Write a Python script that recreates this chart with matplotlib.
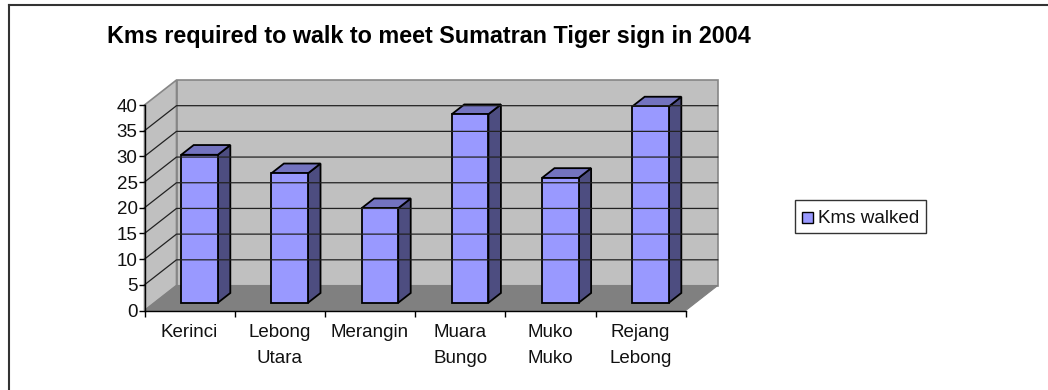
import matplotlib
matplotlib.use("Agg")
import matplotlib.pyplot as plt
from matplotlib.lines import Line2D
from matplotlib.patches import Polygon, Rectangle

plt.rcParams['font.family'] = ['Liberation Sans', 'DejaVu Sans']

title = "Kms required to walk to meet Sumatran Tiger sign in 2004"
categories = ["Kerinci", "Lebong\nUtara", "Merangin", "Muara\nBungo", "Muko\nMuko", "Rejang\nLebong"]
kms_walked = [28.8, 25.2, 18.4, 36.7, 24.3, 38.2]
y_ticks = [0, 5, 10, 15, 20, 25, 30, 35, 40]
legend_label = "Kms walked"

W, H = 1048, 390
fig = plt.figure(figsize=(W / 100, H / 100), dpi=100)
fig.patch.set_facecolor("white")

# chart frame, only the top and left edges are drawn
frame = dict(color="#333333", linewidth=1.5, transform=fig.transFigure)
fig.add_artist(Line2D([9 / W, 9 / W], [0, 1 - 5 / H], **frame))
fig.add_artist(Line2D([9 / W, 1], [1 - 5 / H, 1 - 5 / H], **frame))

# front plane of the chart box
ax = fig.add_axes([144.5 / W, 1 - 310.5 / H, 541.2 / W, 205.5 / H])
ax.set_xlim(0, 6)
ax.set_ylim(0, 40)
ax.patch.set_visible(False)
for s in ax.spines.values():
    s.set_visible(False)

# oblique projection: how far the back of the box shifts, in data units
DX = 32 / (541.2 / 6)
DY = 25 / (205.5 / 40)


def pt(x, y, d=0.0):
    return (x + d * DX, y + d * DY)


def poly(points, **kw):
    ax.add_patch(Polygon(points, closed=True, clip_on=False, **kw))


# walls and floor
poly([pt(0, 0, 1), pt(6, 0, 1), pt(6, 40, 1), pt(0, 40, 1)], facecolor="#c0c0c0", edgecolor="#868686", linewidth=1.2)
poly([pt(0, 0), pt(0, 0, 1), pt(0, 40, 1), pt(0, 40)], facecolor="#c0c0c0", edgecolor="#868686", linewidth=1.2)
poly([pt(0, 0), pt(6, 0), pt(6, 0, 1), pt(0, 0, 1)], facecolor="#808080", edgecolor="#808080", linewidth=0.8)

# gridlines run along the left wall and across the back
for t in y_ticks[1:-1]:
    xs, ys = zip(pt(0, t), pt(0, t, 1), pt(6, t, 1))
    ax.plot(xs, ys, color="#222222", linewidth=0.9, clip_on=False)

# columns
BAR_W = 0.406
D0, D1 = 0.31, 0.70
for i, v in enumerate(kms_walked):
    x0 = i + 0.5 - BAR_W / 2
    x1 = x0 + BAR_W
    ec = dict(edgecolor="black", linewidth=1.3, joinstyle="miter")
    poly([pt(x1, 0, D0), pt(x1, 0, D1), pt(x1, v, D1), pt(x1, v, D0)], facecolor="#4d4d80", **ec)
    poly([pt(x0, v, D0), pt(x1, v, D0), pt(x1, v, D1), pt(x0, v, D1)], facecolor="#7373bf", **ec)
    poly([pt(x0, 0, D0), pt(x1, 0, D0), pt(x1, v, D0), pt(x0, v, D0)], facecolor="#9999ff", **ec)

# front axes
ax.plot([0, 0], [0, 40], color="black", linewidth=1.0, clip_on=False)
ax.plot([0, 6], [0, 0], color="black", linewidth=1.0, clip_on=False)
ax.set_yticks(y_ticks)
ax.set_xticks(range(7))
ax.set_xticklabels([])
ax.tick_params(axis="y", length=4, width=1.0, pad=1, labelsize=13.5, color="black", labelcolor="#111111")
ax.tick_params(axis="x", length=4, width=1.0, color="black")

for i, c in enumerate(categories):
    ax.annotate(c, xy=(i + 0.5, 0), xycoords="data", xytext=(0, -10), textcoords="offset points",
                ha="center", va="top", fontsize=13.5, color="#111111", linespacing=1.65)

fig.text(107 / W, 1 - 43.5 / H, title, fontsize=16.8, fontweight="bold", color="black", ha="left", va="baseline")

# legend box
fig.add_artist(Rectangle((794.5 / W, 1 - 232.5 / H), 131 / W, 32.5 / H, transform=fig.transFigure,
                         facecolor="white", edgecolor="#333333", linewidth=1.0))
fig.add_artist(Rectangle((801.5 / W, 1 - 223 / H), 11 / W, 11 / H, transform=fig.transFigure,
                         facecolor="#9999ff", edgecolor="black", linewidth=1.0))
fig.text(818 / W, 1 - 223 / H, legend_label, fontsize=13.6, color="#111111", ha="left", va="baseline")

fig.savefig("out.png", dpi=100)
